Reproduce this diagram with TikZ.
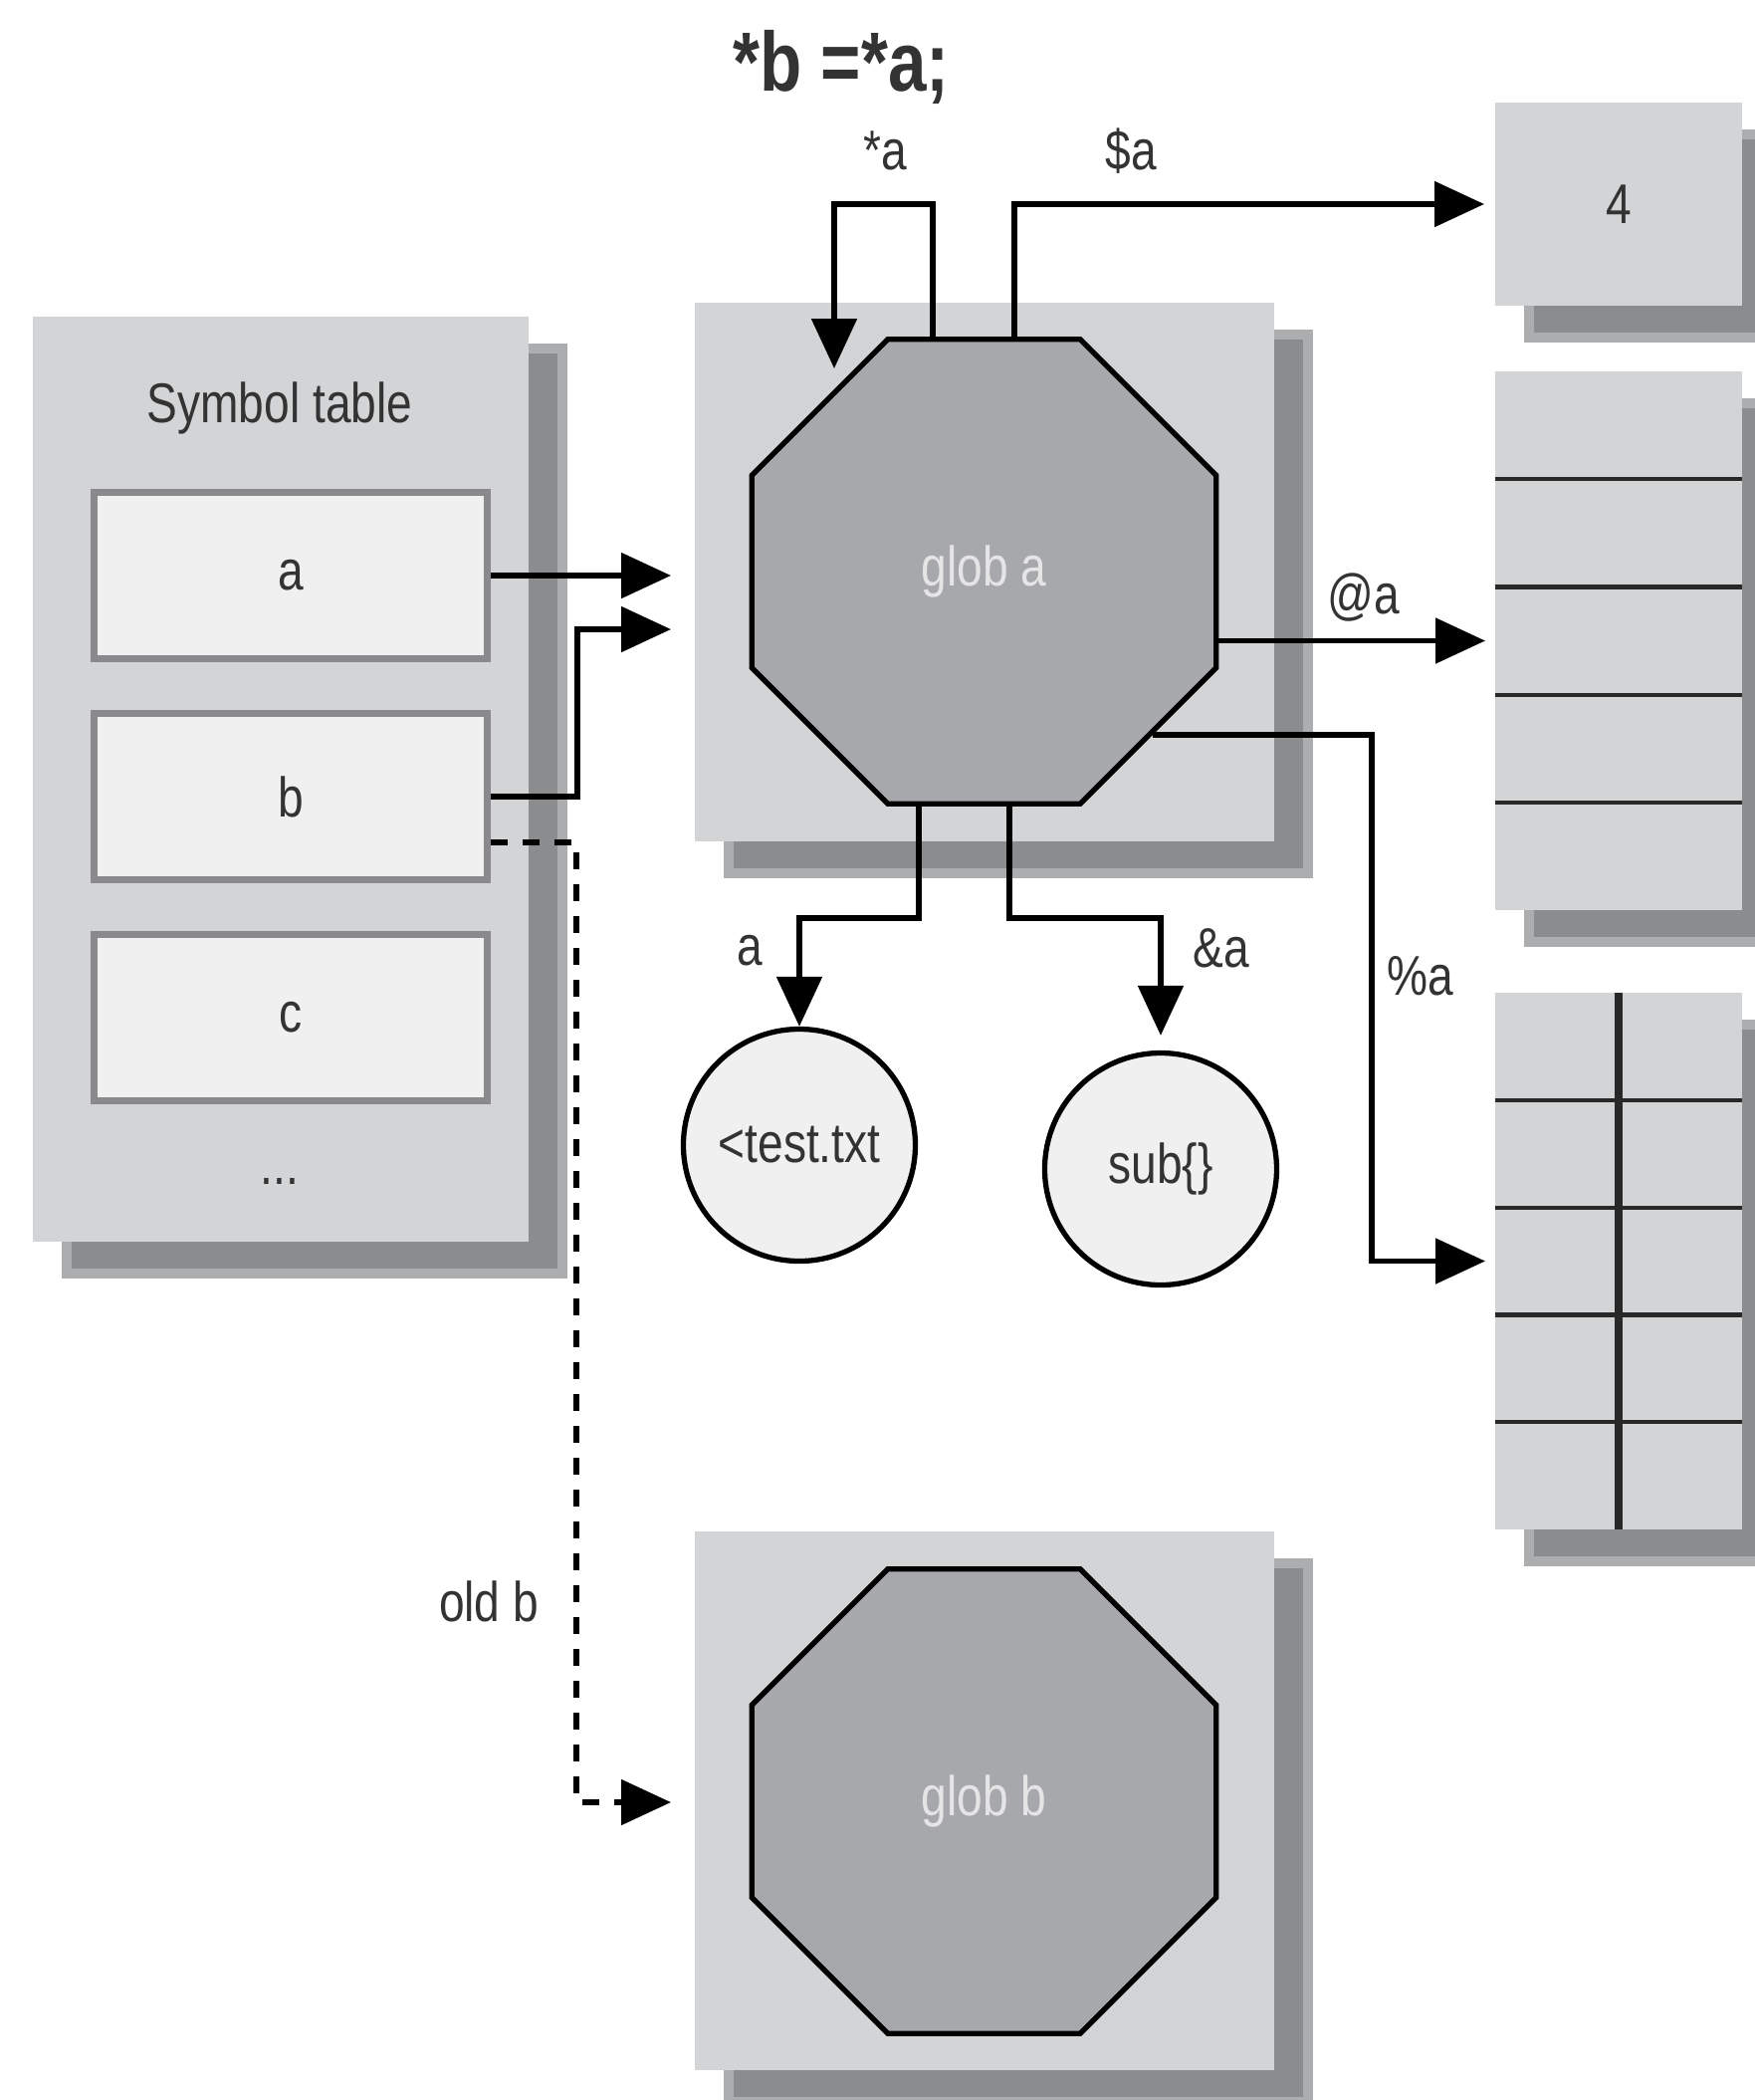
\documentclass[tikz,border=0pt]{standalone}
\usepackage{fontspec}
\setmainfont{Liberation Sans}[FakeStretch=0.82]
\usepackage{tikz}
\usetikzlibrary{shapes.geometric, arrows.meta, positioning, calc, shadows}
\definecolor{panel}{RGB}{211,212,214}
\definecolor{shadowcore}{RGB}{139,140,142}
\definecolor{shadowedge}{RGB}{172,173,175}
\definecolor{globfill}{RGB}{167,168,171}
\definecolor{slotfill}{RGB}{240,240,240}
\definecolor{slotedge}{RGB}{138,138,140}
\definecolor{labelgray}{RGB}{51,51,51}
\definecolor{rulegray}{RGB}{40,40,40}

\begin{document}
\begin{tikzpicture}[node distance=0.48cm, >={Triangle[length=5mm,width=4.5mm]}, font=\fontsize{16}{18}\selectfont]
  \tikzstyle{panelbox} = [rectangle, fill=panel, inner sep=0pt, outer sep=0pt, drop shadow={shadow xshift=3.4mm, shadow yshift=-3.2mm, opacity=1, fill=shadowcore, draw=shadowedge, line width=2.8pt}]
  \tikzstyle{slot} = [rectangle, draw=slotedge, line width=2pt, fill=slotfill, minimum width=3.95cm, minimum height=1.67cm, text=labelgray]
  \tikzstyle{glob} = [regular polygon, regular polygon sides=8, minimum size=5.05cm, inner sep=0pt, draw=black, line width=1.5pt, fill=globfill, text=white!90!black]
  \tikzstyle{value} = [circle, draw=black, line width=1.5pt, fill=slotfill, minimum size=2.33cm, inner sep=0pt, text=labelgray]
  \tikzstyle{tag} = [text=labelgray, inner sep=1pt]
  \tikzstyle{conn} = [->, line width=1.5pt, black]

  \useasboundingbox (0,0) rectangle (17.63,-21.09);

  \node [tag, font=\fontsize{24}{26}\selectfont\bfseries] (stmt) at (8.45,-0.67) {*b =*a;};

  % symbol table
  \node [panelbox, minimum width=4.98cm, minimum height=9.29cm] (symtab) at (2.82,-7.825) {};
  \node [tag] (symtitle) at (2.81,-4.10) {Symbol table};
  \node [slot] (syma) at (2.92,-5.78) {a};
  \node [slot, below=of syma] (symb) {b};
  \node [slot, below=of symb] (symc) {c};
  \node [tag] (symdots) at (2.81,-11.86) {...};

  % globs
  \node [panelbox, minimum width=5.82cm, minimum height=5.41cm] (globabox) at (9.89,-5.745) {};
  \node [glob] (globa) at (9.885,-5.74) {glob a};
  \node [panelbox, minimum width=5.82cm, minimum height=5.41cm] (globbbox) at (9.89,-18.085) {};
  \node [glob] (globb) at (9.885,-18.09) {glob b};

  % slots of glob a
  \node [panelbox, minimum width=2.48cm, minimum height=2.04cm, text=labelgray] (scalar) at (16.26,-2.05) {4};
  \node [panelbox, minimum width=2.48cm, minimum height=5.41cm] (arr) at (16.26,-6.435) {};
  \node [panelbox, minimum width=2.48cm, minimum height=5.39cm] (hash) at (16.26,-12.665) {};
  \foreach \i in {1,...,4} {
    \draw[rulegray, line width=1.2pt] ($(arr.north west)!\i/5!(arr.south west)$) -- ($(arr.north east)!\i/5!(arr.south east)$);
    \draw[rulegray, line width=1.2pt] ($(hash.north west)!\i/5!(hash.south west)$) -- ($(hash.north east)!\i/5!(hash.south east)$);
  }
  \draw[rulegray, line width=2pt] (hash.north) -- (hash.south);

  \node [value] (fh) at (8.03,-11.50) {<test.txt};
  \node [value] (code) at (11.66,-11.74) {sub\{\}};

  % connectors
  \draw[conn, shorten >=2.4mm] (syma.east) -- (syma.east -| globabox.west);
  \coordinate (bjoin) at (5.80,-6.32);
  \draw[conn, shorten >=2.4mm] (symb.east) -| (bjoin) -- (bjoin -| globabox.west);
  \coordinate (oldjoin) at (5.79,-18.10);
  \draw[conn, dash pattern=on 1.7mm off 1.5mm, shorten >=2.4mm] ([yshift=-4.6mm]symb.east) -| (oldjoin) -- (oldjoin -| globbbox.west);

  \coordinate (selfl) at (8.38,-2.05);
  \coordinate (selfr) at (9.37,-2.05);
  \coordinate (selfend) at (8.38,-3.70);
  \draw[conn] (globa.north -| selfr) -- (selfr) -- (selfl) -- (selfend);
  \coordinate (scalarturn) at (10.19,-2.05);
  \draw[conn, shorten >=1.1mm] (globa.north -| scalarturn) -- (scalarturn) -- (scalarturn -| scalar.west);

  \draw[conn, shorten >=1mm] (globa.east |- arr.west) -- (arr.west);
  \coordinate (hashturn) at (13.78,-12.665);
  \draw[conn, shorten >=1mm] (globa.-44) -| (hashturn) -- (hash.west);

  \coordinate (ioturn) at (9.23,-9.22);
  \draw[conn] (globa.south -| ioturn) -- (ioturn) -| (fh.north);
  \coordinate (codeturn) at (10.14,-9.22);
  \draw[conn, shorten >=1.5mm] (globa.south -| codeturn) -- (codeturn) -| (code.north);

  % labels
  \node [tag] (lstar) at (8.89,-1.51) {*a};
  \node [tag] (lscalar) at (11.36,-1.52) {\$a};
  \node [tag] (larr) at (13.70,-6.00) {@a};
  \node [tag] (lhash) at (14.27,-9.80) {\%a};
  \node [tag] (lio) at (7.53,-9.55) {a};
  \node [tag] (lcode) at (12.27,-9.52) {\&a};
  \node [tag] (lold) at (4.91,-16.08) {old b};
\end{tikzpicture}
\end{document}
